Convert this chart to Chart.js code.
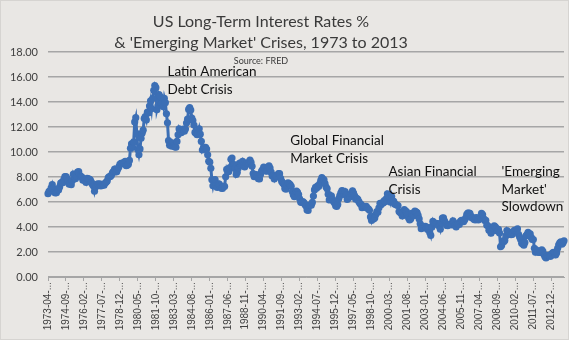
<!DOCTYPE html>
<html lang="en">
<head>
  <meta charset="UTF-8" />
  <title>US Long-Term Interest Rates</title>
  <script src="https://cdn.jsdelivr.net/npm/chart.js"></script>
  <style>
    body { margin: 0; padding: 0; background: #e9e7e4; }
    #wrap { width: 569px; height: 340px; }
  </style>
</head>
<body>
  <div id="wrap"><canvas id="rates"></canvas></div>
  <script>
    // monthly 10-year rate, %, starting 1973-04
    const rates1970s = [
      6.67, 6.85, 6.90, 7.13, 7.40, 7.09, 6.79, 6.73, 6.74,
      6.99, 6.96, 7.21, 7.51, 7.58, 7.54, 7.81, 8.04, 8.04, 7.90, 7.68, 7.43,
      7.50, 7.39, 7.73, 8.23, 8.06, 7.86, 8.06, 8.40, 8.43, 8.14, 8.05, 8.00,
      7.74, 7.79, 7.73, 7.56, 7.90, 7.86, 7.83, 7.77, 7.59, 7.41, 7.29, 6.87,
      7.21, 7.39, 7.46, 7.37, 7.46, 7.28, 7.33, 7.40, 7.34, 7.52, 7.58, 7.69,
      7.96, 8.03, 8.04, 8.15, 8.35, 8.46, 8.64, 8.41, 8.42, 8.64, 8.81, 9.01,
      9.10, 9.10, 9.12, 9.18, 9.25, 8.91, 8.95, 9.03, 9.33, 10.30, 10.65, 10.39
    ];
    const rates1980s = [
      10.80, 12.41, 12.75, 11.47, 10.18, 9.78, 10.25, 11.10, 11.51, 11.75, 12.68, 12.84,
      12.57, 13.19, 13.12, 13.68, 14.10, 13.47, 14.28, 14.94, 15.32, 15.15, 13.39, 13.72,
      14.59, 14.43, 13.86, 13.87, 13.62, 14.30, 13.95, 13.06, 12.34, 10.91, 10.55, 10.54,
      10.46, 10.72, 10.51, 10.40, 10.38, 10.85, 11.38, 11.85, 11.65, 11.54, 11.69, 11.83,
      11.67, 11.84, 12.32, 12.63, 13.41, 13.56, 13.36, 12.72, 12.52, 12.16, 11.57, 11.50,
      11.38, 11.51, 11.86, 11.43, 10.85, 10.16, 10.31, 10.33, 10.37, 10.24, 9.78, 9.26,
      9.19, 8.70, 7.78, 7.30, 7.71, 7.80, 7.30, 7.17, 7.45, 7.43, 7.25, 7.11,
      7.08, 7.25, 7.25, 8.02, 8.61, 8.40, 8.45, 8.76, 9.42, 9.52, 8.86, 8.99,
      8.67, 8.21, 8.37, 8.72, 9.09, 8.92, 9.06, 9.26, 8.98, 8.80, 8.96, 9.11,
      9.09, 9.17, 9.36, 9.18, 8.86, 8.28, 8.02, 8.11, 8.19, 8.01, 7.87, 7.84
    ];
    const rates1990s = [
      8.21, 8.47, 8.59, 8.79, 8.76, 8.48, 8.47, 8.75, 8.89, 8.72, 8.39, 8.08,
      8.09, 7.85, 8.11, 8.04, 8.07, 8.28, 8.27, 7.90, 7.65, 7.53, 7.42, 7.09,
      7.03, 7.34, 7.54, 7.48, 7.39, 7.26, 6.84, 6.59, 6.42, 6.59, 6.87, 6.77,
      6.60, 6.26, 5.98, 5.97, 6.04, 5.96, 5.81, 5.68, 5.36, 5.33, 5.72, 5.77,
      5.75, 5.97, 6.48, 6.97, 7.18, 7.10, 7.30, 7.24, 7.46, 7.74, 7.96, 7.81,
      7.78, 7.47, 7.20, 7.06, 6.63, 6.17, 6.28, 6.49, 6.20, 6.04, 5.93, 5.71,
      5.65, 5.81, 6.27, 6.51, 6.74, 6.91, 6.87, 6.64, 6.83, 6.53, 6.20, 6.30,
      6.58, 6.42, 6.69, 6.89, 6.71, 6.49, 6.22, 6.30, 6.21, 6.03, 5.88, 5.81,
      5.54, 5.57, 5.65, 5.64, 5.65, 5.50, 5.46, 5.34, 4.81, 4.53, 4.83, 4.65,
      4.72, 5.00, 5.23, 5.18, 5.54, 5.90, 5.79, 5.94, 5.92, 6.11, 6.03, 6.28
    ];
    const rates2000s = [
      6.66, 6.52, 6.26, 5.99, 6.44, 6.10, 6.05, 5.83, 5.80, 5.74, 5.72, 5.24,
      5.16, 5.10, 4.89, 5.14, 5.39, 5.28, 5.24, 4.97, 4.73, 4.57, 4.65, 5.09,
      5.04, 4.91, 5.28, 5.21, 5.16, 4.93, 4.65, 4.26, 3.87, 3.94, 4.05, 4.03,
      4.05, 3.90, 3.81, 3.96, 3.57, 3.33, 3.98, 4.45, 4.27, 4.29, 4.30, 4.27,
      4.15, 4.08, 3.83, 4.35, 4.72, 4.73, 4.50, 4.28, 4.13, 4.10, 4.19, 4.23,
      4.22, 4.17, 4.50, 4.34, 4.14, 4.00, 4.18, 4.26, 4.20, 4.46, 4.54, 4.47,
      4.42, 4.57, 4.72, 4.99, 5.11, 5.11, 5.09, 4.88, 4.72, 4.73, 4.60, 4.56,
      4.76, 4.72, 4.56, 4.69, 4.75, 5.10, 5.00, 4.67, 4.52, 4.53, 4.15, 4.10,
      3.74, 3.74, 3.51, 3.68, 3.88, 4.10, 4.01, 3.89, 3.69, 3.81, 3.53, 2.42,
      2.52, 2.87, 2.82, 2.93, 3.29, 3.72, 3.56, 3.59, 3.40, 3.39, 3.40, 3.59
    ];
    const rates2010s = [
      3.73, 3.69, 3.73, 3.85, 3.42, 3.20, 3.01, 2.70, 2.65, 2.54, 2.76, 3.29,
      3.39, 3.58, 3.41, 3.46, 3.17, 3.00, 3.00, 2.30, 1.98, 2.15, 2.01, 1.98,
      1.97, 1.97, 2.17, 2.05, 1.80, 1.62, 1.53, 1.68, 1.72, 1.75, 1.65, 1.72,
      1.91, 1.98, 1.96, 1.76, 1.93, 2.30, 2.58, 2.74, 2.81, 2.62, 2.72, 2.90
    ];
    const rates = [].concat(rates1970s, rates1980s, rates1990s, rates2000s, rates2010s);

    const startYear = 1973, startMonth = 4;
    const months = rates.map((v, i) => {
      const m = startMonth - 1 + i;
      const y = startYear + Math.floor(m / 12);
      return y + "-" + String(m % 12 + 1).padStart(2, "0") + "-01";
    });
    const tickEvery = 17;

    const yTicks = [0, 2, 4, 6, 8, 10, 12, 14, 16, 18];

    const titleLines = ["US Long-Term Interest Rates %", "& 'Emerging Market' Crises, 1973 to 2013"];
    const sourceNote = "Source: FRED";

    // crisis labels anchored to a month and a rate level
    const crises = [
      { at: "1982-09-01", level: 16.4, lines: ["Latin American", "Debt Crisis"] },
      { at: "1992-05-01", level: 10.9, lines: ["Global Financial", "Market Crisis"] },
      { at: "2000-02-01", level: 8.4, lines: ["Asian Financial", "Crisis"] },
      { at: "2009-01-01", level: 8.4, lines: ["'Emerging", "Market'", "Slowdown"] }
    ];

    const backdrop = {
      id: "backdrop",
      beforeDraw(chart) {
        const c = chart.ctx;
        c.save();
        c.fillStyle = "#e9e7e4";
        c.fillRect(0, 0, chart.width, chart.height);
        c.strokeStyle = "#d6d4d1";
        c.lineWidth = 1;
        c.strokeRect(0.5, 0.5, chart.width - 1, chart.height - 1);
        c.restore();
      }
    };

    const texts = {
      id: "texts",
      afterDraw(chart) {
        const c = chart.ctx;
        const x = chart.scales.x, y = chart.scales.y;
        c.save();
        c.textBaseline = "middle";
        c.textAlign = "center";
        c.fillStyle = "#3a3a3a";
        c.font = "16px Lato";
        c.fillText(titleLines[0], 261, 22);
        c.fillText(titleLines[1], 261, 43);
        c.font = "9px Lato";
        c.fillText(sourceNote, 261, 61);

        c.textAlign = "left";
        c.fillStyle = "#111111";
        c.font = "13.5px Lato";
        crises.forEach(cr => {
          const px = x.getPixelForValue(months.indexOf(cr.at));
          const py = y.getPixelForValue(cr.level);
          cr.lines.forEach((t, k) => c.fillText(t, px, py + k * 17.5));
        });
        c.restore();
      }
    };

    new Chart(document.getElementById("rates"), {
      type: "line",
      data: {
        labels: months,
        datasets: [{
          data: rates,
          borderColor: "#3c6fb5",
          borderWidth: 3,
          backgroundColor: "#3c6fb5",
          pointBackgroundColor: "#3c6fb5",
          pointBorderWidth: 0,
          pointRadius: 3.6,
          tension: 0,
          fill: false
        }]
      },
      options: {
        responsive: true,
        maintainAspectRatio: false,
        animation: false,
        layout: { padding: { top: 52, right: 5, left: 0, bottom: 0 } },
        plugins: { legend: { display: false }, tooltip: { enabled: false } },
        scales: {
          x: {
            offset: false,
            afterFit(s) { s.height = 63; },
            border: { display: true, color: "#a6a6a6", width: 1 },
            grid: { drawOnChartArea: false, drawTicks: true, tickLength: 4, color: "#a6a6a6" },
            ticks: {
              autoSkip: false,
              maxRotation: 90,
              minRotation: 90,
              padding: 1,
              color: "#404040",
              font: { family: "Liberation Sans", size: 10 },
              callback(v, i) {
                return i % tickEvery === 0 ? months[i].slice(0, 8) + "..." : null;
              }
            }
          },
          y: {
            min: yTicks[0],
            max: yTicks[yTicks.length - 1],
            afterFit(s) { s.width = 48; },
            afterBuildTicks(s) { s.ticks = yTicks.map(v => ({ value: v })); },
            border: { display: false },
            grid: { drawTicks: false, color: "#a6a6a6", lineWidth: 1.5 },
            ticks: {
              padding: 10,
              color: "#404040",
              font: { family: "Lato", size: 11 },
              callback(v) { return v.toFixed(2); }
            }
          }
        }
      },
      plugins: [backdrop, texts]
    });
  </script>
</body>
</html>
